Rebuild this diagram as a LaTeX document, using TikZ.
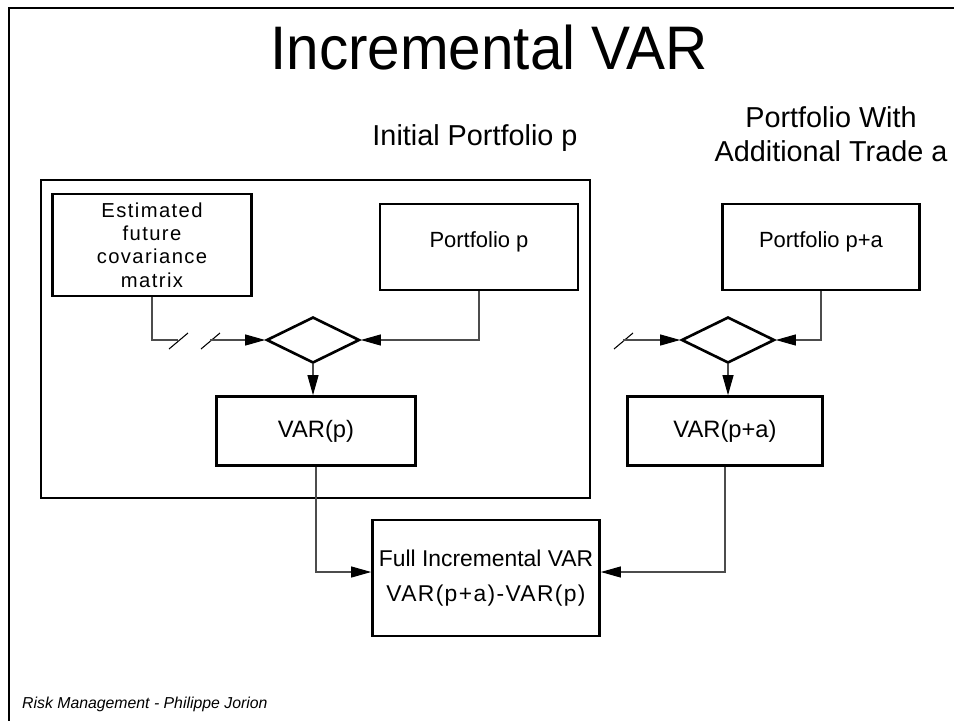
\documentclass[tikz,border=0pt]{standalone}
\usepackage{fontspec}
\setmainfont{Liberation Sans}
\usetikzlibrary{shapes.geometric,arrows.meta}

\tikzset{
  box/.style={draw, line width=1.5pt, align=center, inner sep=0pt},
  decide/.style={draw, diamond, line width=1.5pt, minimum width=18.6mm, minimum height=9.2mm, inner sep=0pt},
  wire/.style={line width=0.6pt, draw=black!70},
  flow/.style={wire, -{Triangle[length=4mm,width=2.2mm,color=black,fill=black]}},
  slash/.style={line width=0.6pt},
}

\begin{document}
\begin{tikzpicture}[x=0.2mm, y=-0.2mm]
      \useasboundingbox (0,0) rectangle (954,721);
      \draw[line width=1.7pt] (954,8) -- (9,8) -- (9,721);
      \node (title) at (489,48) [xscale=0.95, font=\fontsize{35}{40}\selectfont] {Incremental VAR};
      \node (init) at (475,138) [font=\fontsize{16.4}{19}\selectfont] {Initial Portfolio p};
      \node (trade) at (831,134) [align=center, font=\fontsize{16.4}{19.3}\selectfont] {Portfolio With\\Additional Trade a};
      \draw[line width=0.6pt] (41,180) rectangle (590,498);
      % inputs
      \node (est) at (152,245) [box, minimum width=39.8mm, minimum height=20.4mm, font=\fontsize{11.5}{13.3}\selectfont\addfontfeature{LetterSpace=7}] {Estimated\\future\\covariance\\matrix};
      \node (pp) at (479,247) [box, minimum width=39.6mm, minimum height=17.2mm, text height=2mm, text depth=2mm, font=\fontsize{12.5}{15}\selectfont] {Portfolio p};
      \node (ppa) at (821,247) [box, minimum width=39.4mm, minimum height=17.2mm, text height=2mm, text depth=2mm, font=\fontsize{12.5}{15}\selectfont] {Portfolio p+a};
      \node (d1) at (313,340) [decide] {};
      \node (d2) at (728,340) [decide] {};
      \node (varp) at (316,431) [box, minimum width=39.8mm, minimum height=13.8mm, font=\fontsize{13.5}{16}\selectfont] {VAR(p)};
      \node (varpa) at (725,431) [box, minimum width=39mm, minimum height=13.8mm, font=\fontsize{13.5}{16}\selectfont] {VAR(p+a)};
      \node (full) at (486,578) [box, minimum width=45.4mm, minimum height=23.2mm, font=\fontsize{13}{19.5}\selectfont] {Full Incremental VAR\\\addfontfeature{LetterSpace=6}VAR(p+a)-VAR(p)};
      \node (src) at (16,704) [anchor=west, font=\fontsize{9}{10}\selectfont\itshape] {Risk Management - Philippe Jorion};
      % broken lines
      \coordinate (b1) at (178,340);
      \coordinate (b2) at (210,340);
      \coordinate (b3) at (623,340);
      \foreach \b in {b1,b2,b3}
        \draw[slash] (\b) ++(-9,9) -- ++(19,-16);
      \draw[wire] (est.south) |- (b1);
      \draw[flow] (b2) -- (d1.west);
      \draw[flow] (pp.south) |- (d1.east);
      \draw[flow] (d1.south) -- (d1.south |- varp.north);
      \draw[flow] (b3) -- (d2.west);
      \draw[flow] (ppa.south) |- (d2.east);
      \draw[flow] (d2.south) -- (d2.south |- varpa.north);
      \draw[flow] (varp.south) |- ([yshift=1.2mm]full.west);
      \draw[flow] (varpa.south) |- ([yshift=1.2mm]full.east);
\end{tikzpicture}
\end{document}
